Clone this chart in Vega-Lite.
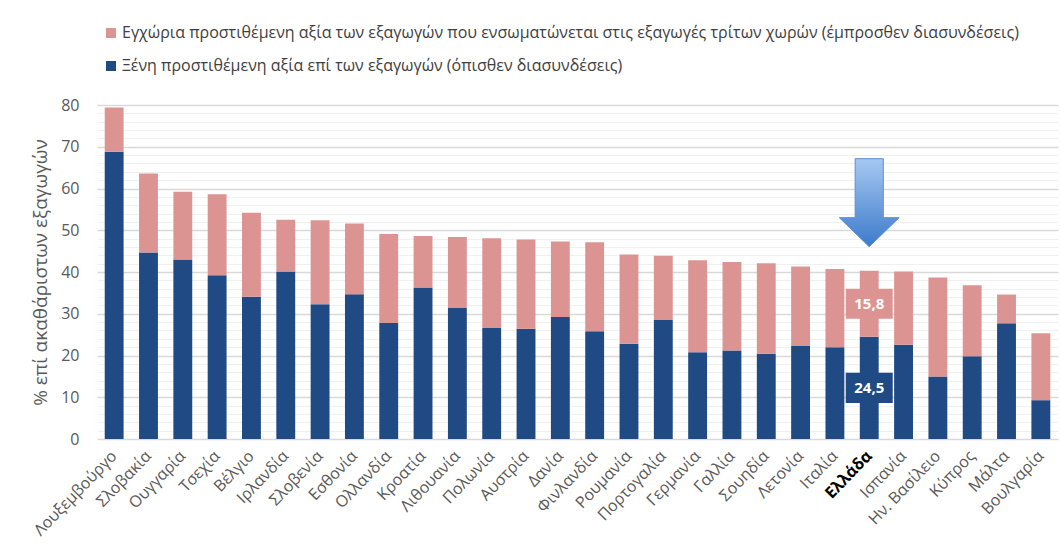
{
  "$schema": "https://vega.github.io/schema/vega-lite/v6.json",
  "autosize": {"type": "none"},
  "width": 961,
  "height": 334,
  "padding": {"left": 97, "top": 105, "right": 3, "bottom": 114},
  "background": "#ffffff",
  "config": {
    "font": "Open Sans",
    "view": {"stroke": null}
  },
  "resolve": {"axis": {"y": "independent"}},
  "data": {
    "values": [
      {"country": "Λουξεμβούργο", "back": 68.8, "fwd": 10.6},
      {"country": "Σλοβακία", "back": 44.7, "fwd": 18.9},
      {"country": "Ουγγαρία", "back": 43.0, "fwd": 16.2},
      {"country": "Τσεχία", "back": 39.2, "fwd": 19.4},
      {"country": "Βέλγιο", "back": 34.1, "fwd": 20.1},
      {"country": "Ιρλανδία", "back": 40.1, "fwd": 12.4},
      {"country": "Σλοβενία", "back": 32.3, "fwd": 20.1},
      {"country": "Εσθονία", "back": 34.7, "fwd": 16.9},
      {"country": "Ολλανδία", "back": 27.8, "fwd": 21.3},
      {"country": "Κροατία", "back": 36.3, "fwd": 12.3},
      {"country": "Λιθουανία", "back": 31.4, "fwd": 17.0},
      {"country": "Πολωνία", "back": 26.6, "fwd": 21.5},
      {"country": "Αυστρία", "back": 26.4, "fwd": 21.4},
      {"country": "Δανία", "back": 29.2, "fwd": 18.1},
      {"country": "Φινλανδία", "back": 25.8, "fwd": 21.3},
      {"country": "Ρουμανία", "back": 22.8, "fwd": 21.4},
      {"country": "Πορτογαλία", "back": 28.5, "fwd": 15.4},
      {"country": "Γερμανία", "back": 20.8, "fwd": 22.0},
      {"country": "Γαλλία", "back": 21.2, "fwd": 21.2},
      {"country": "Σουηδία", "back": 20.4, "fwd": 21.7},
      {"country": "Λετονία", "back": 22.3, "fwd": 19.0},
      {"country": "Ιταλία", "back": 22.0, "fwd": 18.7},
      {"country": "Ελλάδα", "back": 24.5, "fwd": 15.8},
      {"country": "Ισπανία", "back": 22.6, "fwd": 17.5},
      {"country": "Ην. Βασίλειο", "back": 15.0, "fwd": 23.7},
      {"country": "Κύπρος", "back": 19.8, "fwd": 17.0},
      {"country": "Μάλτα", "back": 27.7, "fwd": 6.9},
      {"country": "Βουλγαρία", "back": 9.3, "fwd": 16.0}
    ]
  },
  "encoding": {
    "x": {
      "field": "country",
      "type": "nominal",
      "sort": null,
      "scale": {"paddingInner": 0.45, "paddingOuter": 0.225},
      "axis": {
        "title": null,
        "domain": false,
        "ticks": false,
        "labelAngle": -46,
        "labelAlign": "right",
        "labelBaseline": "middle",
        "labelPadding": 14,
        "labelFontSize": 16,
        "labelColor": {"condition": {"test": "datum.value === 'Ελλάδα'", "value": "#000000"}, "value": "#595959"},
        "labelFontWeight": {"condition": {"test": "datum.value === 'Ελλάδα'", "value": "bold"}, "value": "normal"},
        "labelLimit": 300
      }
    }
  },
  "layer": [
    {
      "transform": [
        {"fold": ["back", "fwd"], "as": ["series", "value"]}
      ],
      "mark": {"type": "bar", "opacity": 0},
      "encoding": {
        "y": {
          "field": "value",
          "type": "quantitative",
          "stack": "zero",
          "scale": {"domain": [0, 80], "nice": false},
          "axis": {
            "orient": "left",
            "title": null,
            "values": [2, 4, 6, 8, 12, 14, 16, 18, 22, 24, 26, 28, 32, 34, 36, 38, 42, 44, 46, 48, 52, 54, 56, 58, 62, 64, 66, 68, 72, 74, 76, 78],
            "labels": false,
            "domain": false,
            "ticks": false,
            "grid": true,
            "gridColor": "#f0f0f0",
            "gridWidth": 1
          }
        },
        "order": {"field": "series", "sort": "ascending"}
      }
    },
    {
      "transform": [
        {"fold": ["back", "fwd"], "as": ["series", "value"]}
      ],
      "mark": {"type": "bar"},
      "encoding": {
        "y": {
          "field": "value",
          "type": "quantitative",
          "stack": "zero",
          "axis": {
            "orient": "left",
            "title": "% επί ακαθάριστων εξαγωγών",
            "titleFontSize": 19,
            "titleFontWeight": "normal",
            "titleColor": "#595959",
            "titlePadding": 10,
            "values": [0, 10, 20, 30, 40, 50, 60, 70, 80],
            "labelFontSize": 16,
            "labelColor": "#595959",
            "labelPadding": 18,
            "labelOverlap": false,
            "domain": false,
            "ticks": false,
            "grid": true,
            "gridColor": "#d9d9d9",
            "gridWidth": 1.5
          }
        },
        "color": {
          "field": "series",
          "type": "nominal",
          "scale": {"domain": ["fwd", "back"], "range": ["#dc9493", "#1f4a84"]},
          "legend": {
            "title": null,
            "orient": "none",
            "legendX": 6,
            "legendY": -80,
            "direction": "vertical",
            "symbolType": "square",
            "symbolSize": 100,
            "symbolStrokeWidth": 0,
            "labelFontSize": 16,
            "labelOffset": 3,
            "labelColor": "#404040",
            "labelLimit": 1000,
            "rowPadding": 17,
            "padding": 0,
            "labelExpr": "datum.value === 'fwd' ? 'Εγχώρια προστιθέμενη αξία των εξαγωγών που ενσωματώνεται στις εξαγωγές τρίτων χωρών (έμπροσθεν διασυνδέσεις)' : 'Ξένη προστιθέμενη αξία επί των εξαγωγών (όπισθεν διασυνδέσεις)'"
          }
        },
        "order": {"field": "series", "sort": "ascending"}
      }
    },
    {
      "transform": [
        {"filter": "datum.country === 'Ελλάδα'"},
        {"fold": ["back", "fwd"], "as": ["series", "value"]},
        {"calculate": "datum.series === 'back' ? datum.value / 2 : 24.5 + datum.value / 2", "as": "mid"},
        {"calculate": "replace(format(datum.value, '.1f'), '.', ',')", "as": "lbl"}
      ],
      "layer": [
        {
          "mark": {"type": "point", "filled": true, "opacity": 1, "shape": "M -1 -0.64 L 1 -0.64 L 1 0.64 L -1 0.64 Z", "size": 2209},
          "encoding": {
            "y": {"field": "mid", "type": "quantitative", "axis": null},
            "color": {"field": "series", "type": "nominal", "legend": null}
          }
        },
        {
          "mark": {"type": "text", "color": "#ffffff", "fontWeight": "bold", "fontSize": 15, "baseline": "middle", "align": "center"},
          "encoding": {
            "y": {"field": "mid", "type": "quantitative", "axis": null},
            "text": {"field": "lbl", "type": "nominal"}
          }
        }
      ]
    },
    {
      "data": {"values": [{"country": "Ελλάδα"}]},
      "mark": {
        "type": "point",
        "filled": true,
        "opacity": 1,
        "shape": "M -0.32 -1 L 0.32 -1 L 0.32 0.34 L 0.68 0.34 L 0 1 L -0.68 0.34 L -0.32 0.34 Z",
        "size": 7744,
        "fill": {"gradient": "linear", "x1": 0, "y1": 0, "x2": 0, "y2": 1, "stops": [{"offset": 0, "color": "#a5c8f2"}, {"offset": 1, "color": "#3d7acb"}]},
        "stroke": "#5b8fd6",
        "strokeWidth": 1
      },
      "encoding": {
        "y": {"datum": 56.6, "type": "quantitative", "axis": null}
      }
    }
  ]
}
